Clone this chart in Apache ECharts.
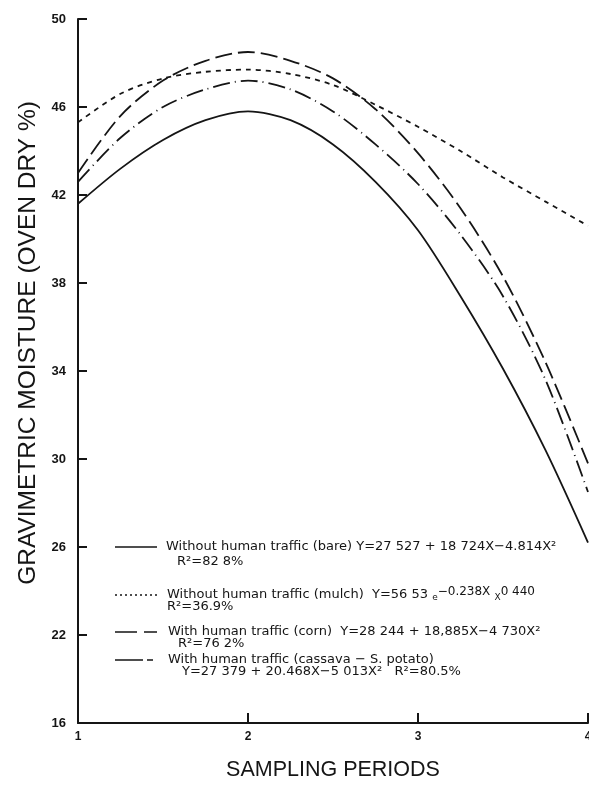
<!DOCTYPE html>
<html>
<head>
<meta charset="utf-8">
<script src="https://cdn.jsdelivr.net/npm/echarts@6/dist/echarts.min.js"></script>
<style>
  html, body { margin: 0; padding: 0; background: #fff; }
  #chart { width: 589px; height: 787px; }
</style>
</head>
<body>
<div id="chart"></div>
<script>
// sampling periods (x) and moisture readings (y)
const periods = [1, 1.25, 1.5, 1.75, 2, 2.25, 2.5, 2.75, 3, 3.25, 3.5, 3.75, 4]
const bare    = [41.6, 43.2, 44.5, 45.4, 45.8, 45.4, 44.3, 42.6, 40.4, 37.4, 34.1, 30.4, 26.2]
const mulch   = [45.3, 46.6, 47.3, 47.6, 47.7, 47.5, 47.0, 46.1, 45.1, 44.0, 42.8, 41.7, 40.6]
const corn    = [42.6, 44.6, 46.0, 46.8, 47.2, 46.8, 45.8, 44.3, 42.5, 40.2, 37.4, 33.6, 28.5]
const cassava = [43.0, 45.6, 47.2, 48.1, 48.5, 48.1, 47.3, 45.9, 43.9, 41.4, 38.3, 34.4, 29.8]

const seriesNames = [
  'Without human traffic (bare)',
  'Without human traffic (mulch)',
  'With human traffic (corn)',
  'With human traffic (cassava - S. potato)',
]

const ink = '#151515'
const font = '"Liberation Sans", Arial, sans-serif'
const legendFont = '"DejaVu Sans", sans-serif'

const pairs = ys => periods.map((x, i) => [x, ys[i]])

const chart = echarts.init(document.getElementById('chart'))

const dashes = {
  bare: 'solid',
  mulch: [5, 5],
  corn: [17, 5, 1, 5],
  cassava: [17, 6],
}

function line(name, ys, dash) {
  return {
    name,
    type: 'line',
    smooth: 0.3,
    symbol: 'none',
    data: pairs(ys),
    lineStyle: { color: ink, width: 1.8, type: dash },
    z: 3,
  }
}

// legend block drawn inside the plot, as in the original figure
const legendText = { fill: ink, font: '13px ' + legendFont }
function sample(y, dash) {
  return {
    type: 'line',
    shape: { x1: 115, y1: y, x2: 157, y2: y },
    style: { stroke: ink, lineWidth: 1.5, lineDash: dash === 'solid' ? null : dash },
  }
}
function txt(x, y, text, rich) {
  return {
    type: 'text', x, y,
    style: Object.assign({ text, verticalAlign: 'middle', rich }, legendText),
  }
}

const rich = {
  sub: { fontSize: 9, fontFamily: legendFont, fill: ink, padding: [6, 0, 0, 0] },
  sup: { fontSize: 12, fontFamily: legendFont, fill: ink, padding: [0, 0, 6, 0] },
}

chart.setOption({
  backgroundColor: '#fff',
  animation: false,
  grid: { left: 78, right: 1, top: 19, bottom: 64, outerBoundsMode: 'none', containLabel: false },
  xAxis: {
    type: 'value',
    min: 1,
    max: 4,
    interval: 1,
    name: 'SAMPLING PERIODS',
    nameLocation: 'middle',
    nameGap: 36,
    nameTextStyle: { color: ink, fontSize: 21.5, fontFamily: font },
    axisLine: { lineStyle: { color: ink, width: 2 } },
    axisTick: { inside: true, length: 10, lineStyle: { color: ink, width: 2 } },
    axisLabel: { color: ink, fontSize: 12, fontWeight: 'bold', fontFamily: font, margin: 8 },
    splitLine: { show: false },
  },
  yAxis: {
    type: 'value',
    min: 18,
    max: 50,
    interval: 4,
    name: 'GRAVIMETRIC MOISTURE (OVEN DRY %)',
    nameLocation: 'middle',
    nameGap: 36,
    nameTextStyle: { color: ink, fontSize: 24.5, fontFamily: font, padding: [0, 0, 0, 56] },
    axisLine: { show: true, lineStyle: { color: ink, width: 2 } },
    axisTick: { show: true, inside: true, length: 9, lineStyle: { color: ink, width: 2 } },
    axisLabel: {
      color: ink, fontSize: 13, fontWeight: 'bold', fontFamily: font, margin: 12,
      formatter: v => (v === 18 ? '16' : String(v)),
    },
    splitLine: { show: false },
  },
  series: [
    line(seriesNames[0], bare, dashes.bare),
    line(seriesNames[1], mulch, dashes.mulch),
    line(seriesNames[2], corn, dashes.corn),
    line(seriesNames[3], cassava, dashes.cassava),
  ],
  graphic: [
    sample(547, dashes.bare),
    txt(166, 547, 'Without human traffic (bare) Y=27 527 + 18 724X\u22124.814X\u00b2'),
    txt(177, 562, 'R\u00b2=82 8%'),

    sample(595, [2, 3]),
    txt(167, 595, 'Without human traffic (mulch)  Y=56 53 {sub|e}{sup|\u22120.238X} {sub|X}{sup|0 440}', rich),
    txt(167, 607, 'R\u00b2=36.9%'),

    sample(632, [22, 7]),
    txt(168, 632, 'With human traffic (corn)  Y=28 244 + 18,885X\u22124 730X\u00b2'),
    txt(178, 644, 'R\u00b2=76 2%'),

    sample(660, [28, 4, 6, 4]),
    txt(168, 660, 'With human traffic (cassava \u2212 S. potato)'),
    txt(182, 672, 'Y=27 379 + 20.468X\u22125 013X\u00b2   R\u00b2=80.5%'),
  ],
})
</script>
</body>
</html>
